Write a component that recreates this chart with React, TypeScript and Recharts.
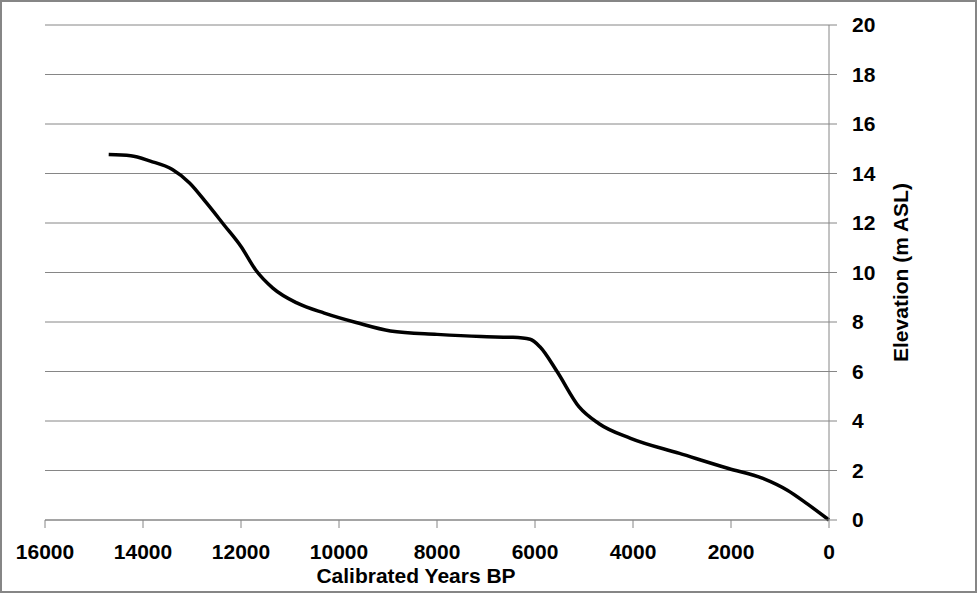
import React from "react";
import {
  LineChart,
  Line,
  XAxis,
  YAxis,
  CartesianGrid,
  Label,
} from "recharts";

// calibrated age (years BP) and elevation (m ASL)
const ages = [
  14700, 14250, 13850, 13400, 13050, 12700, 12350, 12000, 11700, 11350, 10850,
  10300, 9650, 8950, 8000, 7100, 6450, 6100, 5900, 5550, 5100, 4700, 4050,
  3050, 2050, 1350, 850, 450, 0,
];
const elevations = [
  14.77, 14.72, 14.5, 14.16, 13.62, 12.8, 11.93, 11.05, 10.1, 9.37, 8.76, 8.36,
  7.98, 7.64, 7.5, 7.41, 7.38, 7.3, 7.0, 6.0, 4.57, 3.9, 3.3, 2.69, 2.08, 1.68,
  1.2, 0.66, 0,
];
const xTicks = [0, 2000, 4000, 6000, 8000, 10000, 12000, 14000, 16000];
const yTicks = [0, 2, 4, 6, 8, 10, 12, 14, 16, 18, 20];

const data = ages.map((age, i) => ({ age, elev: elevations[i] }));

const gray = "#868686";
const font = "'Liberation Sans', Arial, sans-serif";
const tickStyle = { fill: "#000", fontSize: 21, fontWeight: 700, fontFamily: font };

function XTitle(props: any) {
  const vb = props.viewBox;
  return (
    <text
      x={vb.x + vb.width / 2 - 21}
      y={vb.y + 63}
      textAnchor="middle"
      fill="#000"
      fontSize={21}
      fontWeight={700}
      fontFamily={font}
    >
      Calibrated Years BP
    </text>
  );
}

function YTitle(props: any) {
  const vb = props.viewBox;
  const x = vb.x + 79;
  const y = vb.y + vb.height / 2;
  return (
    <text
      x={x}
      y={y}
      transform={`rotate(-90 ${x} ${y})`}
      textAnchor="middle"
      fill="#000"
      fontSize={21}
      fontWeight={700}
      fontFamily={font}
    >
      Elevation (m ASL)
    </text>
  );
}

export default function App() {
  return (
    <div
      style={{
        width: 977,
        height: 593,
        boxSizing: "border-box",
        border: `2px solid ${gray}`,
        background: "#fff",
      }}
    >
      <style>{`body{margin:0}`}</style>
      <LineChart
        width={973}
        height={589}
        data={data}
        margin={{ top: 23, right: 0, bottom: 0, left: 43 }}
      >
        <CartesianGrid vertical={false} stroke={gray} strokeWidth={1} />
        <XAxis
          dataKey="age"
          type="number"
          domain={[0, 16000]}
          ticks={xTicks}
          reversed
          interval={0}
          height={71}
          stroke={gray}
          tickSize={8}
          tickMargin={16}
          tick={tickStyle}
        >
          <Label content={<XTitle />} />
        </XAxis>
        <YAxis
          orientation="right"
          type="number"
          domain={[0, 20]}
          ticks={yTicks}
          interval={0}
          width={146}
          stroke={gray}
          tickSize={8}
          tickMargin={15}
          tick={tickStyle}
        >
          <Label content={<YTitle />} />
        </YAxis>
        <Line
          type="monotone"
          dataKey="elev"
          stroke="#000"
          strokeWidth={3.5}
          dot={false}
          isAnimationActive={false}
        />
      </LineChart>
    </div>
  );
}
